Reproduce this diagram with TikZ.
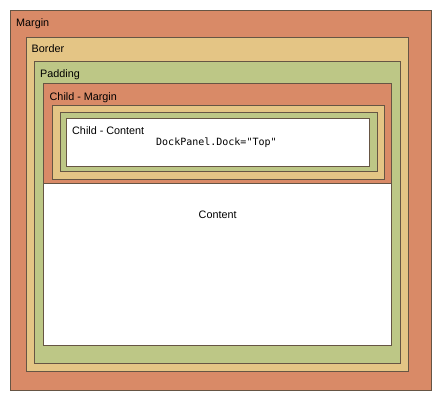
\documentclass[tikz,border=0pt]{standalone}
\usepackage{fontspec}
\setmainfont{Liberation Sans}
\newfontfamily\codefont{DejaVu Sans Mono}
\definecolor{marginfill}{HTML}{D98A67}
\definecolor{borderfill}{HTML}{E4C585}
\definecolor{paddingfill}{HTML}{BDC786}
\definecolor{edge}{HTML}{665544}
\begin{document}
\begin{tikzpicture}[x=1pt,y=-1pt,
  layer/.style={draw=edge,line width=0.8pt},
  lbl/.style={anchor=base west,inner sep=0pt,font=\fontsize{10.8}{12}\selectfont},
  code/.style={anchor=base west,inner sep=0pt,font=\codefont\fontsize{10}{12}\selectfont}]
  \useasboundingbox (0,0) rectangle (443,404);
  % outer box model
  \draw[layer,fill=marginfill]  (10,10)  rectangle (431,390);
  \draw[layer,fill=borderfill]  (26,37)  rectangle (408,371);
  \draw[layer,fill=paddingfill] (34,61)  rectangle (400,363);
  \draw[layer,fill=white]       (43,83)  rectangle (391,345);
  % docked child
  \draw[layer,fill=marginfill]  (43,83)  rectangle (391,183);
  \draw[layer,fill=borderfill]  (52,105) rectangle (384,179);
  \draw[layer,fill=paddingfill] (60,112) rectangle (377,171);
  \draw[layer,fill=white]       (66,118) rectangle (369,166);
  % labels
  \node[lbl] (margin)  at (16,26.5)  {Margin};
  \node[lbl] (border)  at (31.5,52.5) {Border};
  \node[lbl] (padding) at (40,77)    {Padding};
  \node[lbl] (cmargin) at (49.5,100.5) {Child - Margin};
  \node[lbl] (ccontent) at (72,134)  {Child - Content};
  \node[code] (dock) at (156,145.5) {DockPanel.Dock="Top"};
  \node[lbl] (content) at (198.5,218.5) {Content};
\end{tikzpicture}
\end{document}
